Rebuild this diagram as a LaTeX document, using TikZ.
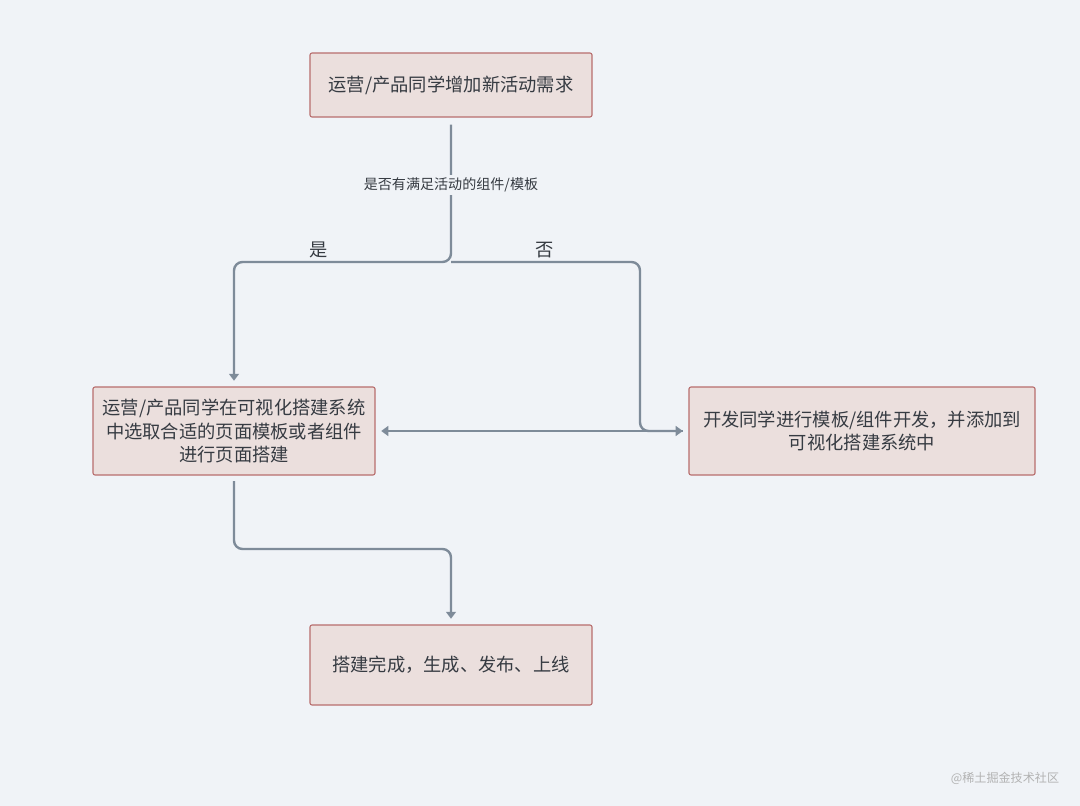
\documentclass[tikz,border=0pt]{standalone}
\usepackage{fontspec}
\setmainfont{Noto Sans CJK SC}
\usetikzlibrary{arrows.meta}
\definecolor{bgcol}{HTML}{F0F3F7}
\definecolor{boxfill}{HTML}{EBDFDD}
\definecolor{boxline}{HTML}{B86E6E}
\definecolor{linkcol}{HTML}{7E8B99}
\definecolor{txtcol}{HTML}{363B42}
\tikzset{
  stepbox/.style={draw=boxline, fill=boxfill, line width=0.8pt, rounded corners=1.5pt,
    text=txtcol, align=center, inner sep=0pt, font=\fontsize{13}{17}\selectfont},
  link/.style={draw=linkcol, line width=1.7pt, rounded corners=6pt},
  tip/.style={-{Triangle[width=7pt,length=5pt]}},
  lbl/.style={text=txtcol, font=\fontsize{13}{17}\selectfont}
}
\begin{document}
\begin{tikzpicture}[x=0.025cm, y=-0.025cm]
\useasboundingbox[fill=bgcol] (0,0) rectangle (1080,806);
% boxes
\node[stepbox, minimum width=7.05cm, minimum height=1.6cm] (need) at (451,85) {运营/产品同学增加新活动需求};
\node[stepbox, minimum width=7.05cm, minimum height=2.2cm] (build) at (234,431) {运营/产品同学在可视化搭建系统\\中选取合适的页面模板或者组件\\进行页面搭建};
\node[stepbox, minimum width=8.65cm, minimum height=2.2cm] (dev) at (862,431) {开发同学进行模板/组件开发，并添加到\\可视化搭建系统中};
\node[stepbox, minimum width=7.05cm, minimum height=2.0cm] (done) at (451,665) {搭建完成，生成、发布、上线};
% connectors
\coordinate (fork) at (451,262);
\draw[link, tip, shorten <=5pt, shorten >=4pt] (need.south) -- (fork) -| (build.north);
\draw[link, tip, shorten >=4pt] (fork) -| (640,431) -- (dev.west);
\draw[link, tip, shorten <=4pt, shorten >=4pt] (dev.west) -- (build.east);
\draw[link, tip, shorten <=4pt, shorten >=4pt] (build.south) |- (451,549) -- (done.north);
% labels
\node[lbl, fill=bgcol, inner sep=2pt, font=\fontsize{10}{12}\selectfont] (ask) at (451,185) {是否有满足活动的组件/模板};
\node[lbl] (yes) at (319,250) {是};
\node[lbl] (no) at (545,250) {否};
\node[text=black!30, font=\fontsize{8.6}{10}\selectfont] (mark) at (1005,778) {@稀土掘金技术社区};
\end{tikzpicture}
\end{document}
